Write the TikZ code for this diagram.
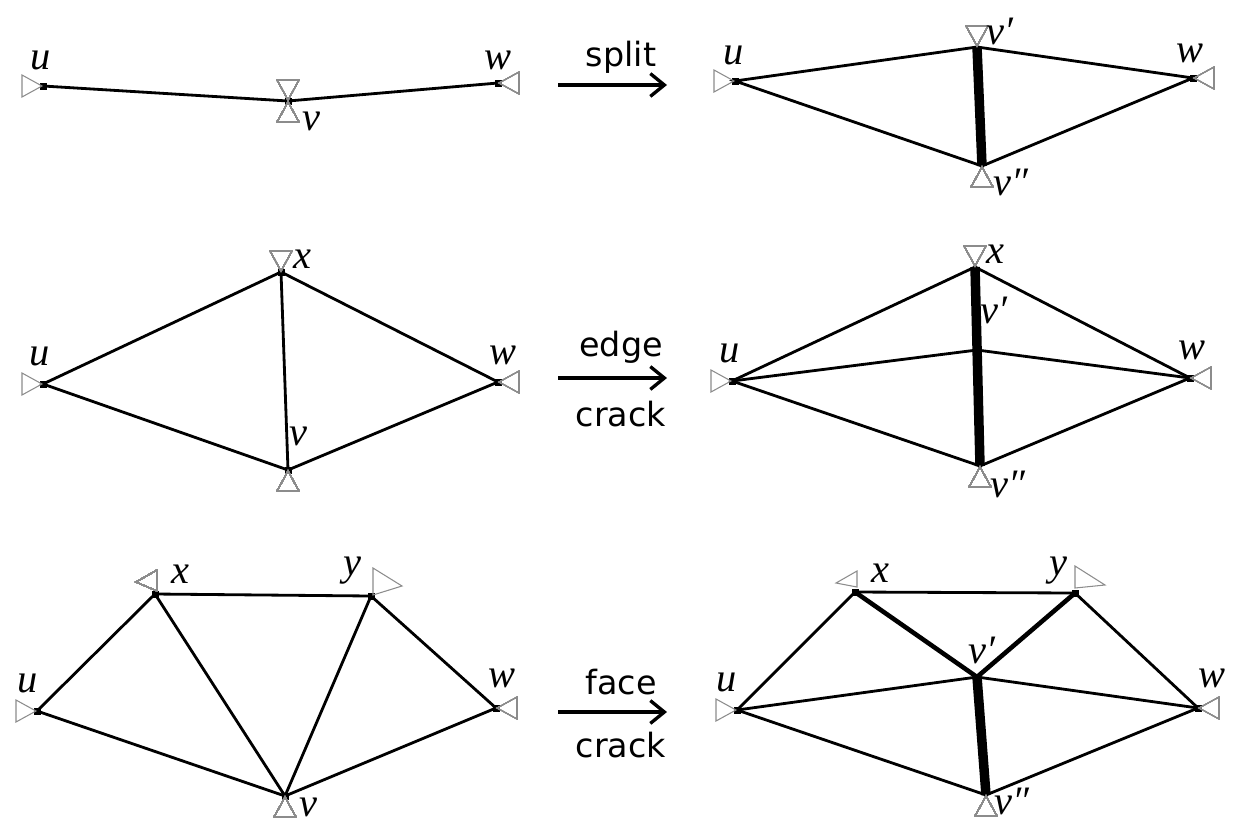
\documentclass[tikz,border=0pt]{standalone}
\usepackage{fontspec}
\setmainfont{Liberation Serif}
\newfontfamily\wordfont{DejaVu Sans}
\usetikzlibrary{arrows.meta}
\usetikzlibrary{calc}

\tikzset{
	edge/.style={line width=1.6pt},
	cut/.style={line width=5.4pt},
	halfcut/.style={line width=2.6pt},
	tri/.style={draw=black!45, line width=0.6pt, line join=miter},
	lbl/.style={inner sep=0pt, font=\fontsize{23}{23}\selectfont\itshape},
	word/.style={inner sep=0pt, font=\wordfont\fontsize{19}{19}\selectfont},
	move/.style={line width=1.9pt, -{Straight Barb[length=8pt,width=13pt,line width=1.9pt]}}
}

% triangle with its apex on a vertex, opening in direction #2
\newcommand{\gtri}[2]{\draw[tri, shift={(#1)}, rotate=#2] (1,0) -- (21,11) -- (21,-11) -- cycle;}

\begin{document}
\begin{tikzpicture}[x=0.02cm, y=-0.02cm]
	\useasboundingbox (0,0) rectangle (1236,829);

	% row 1: split
	\coordinate (uA) at (43,86);
	\coordinate (vA) at (288,101);
	\coordinate (wA) at (498,83);
	\coordinate (uB) at (735,81);
	\coordinate (vpB) at (977,47);
	\coordinate (vppB) at (982,166);
	\coordinate (wB) at (1193,78);

	% row 2: edge crack
	\coordinate (uC) at (43,384);
	\coordinate (xC) at (281,272);
	\coordinate (vC) at (288,470);
	\coordinate (wC) at (498,382);
	\coordinate (uD) at (732,381);
	\coordinate (xD) at (975,267);
	\coordinate (vpD) at (977,350);
	\coordinate (vppD) at (980,466);
	\coordinate (wD) at (1190,378);

	% row 3: face crack
	\coordinate (uE) at (37,711);
	\coordinate (xE) at (155,594);
	\coordinate (yE) at (371,596);
	\coordinate (vE) at (285,796);
	\coordinate (wE) at (496,708);
	\coordinate (uF) at (737,710);
	\coordinate (xF) at (855,592);
	\coordinate (yF) at (1075,593);
	\coordinate (vpF) at (977,677);
	\coordinate (vppF) at (986,795);
	\coordinate (wF) at (1198,708);

	% edges
	\draw[edge] (uA) -- (vA) -- (wA);
	\draw[edge] (uB) -- (vpB) -- (wB) -- (vppB) -- cycle;
	\draw[cut] (vpB) -- (vppB);

	\draw[edge] (uC) -- (xC) -- (wC) -- (vC) -- cycle;
	\draw[edge] (xC) -- (vC);
	\draw[edge] (uD) -- (xD) -- (wD) -- (vppD) -- cycle;
	\draw[edge] (uD) -- (vpD) -- (wD);
	\draw[cut] (xD) -- (vppD);

	\draw[edge] (uE) -- (xE) -- (yE) -- (wE) -- (vE) -- cycle;
	\draw[edge] (xE) -- (vE) -- (yE);
	\draw[edge] (uF) -- (xF) -- (yF) -- (wF) -- (vppF) -- cycle;
	\draw[edge] (uF) -- (vpF) -- (wF);
	\draw[halfcut] (xF) -- (vpF) -- (yF);
	\draw[cut] (vpF) -- (vppF);

	% vertices
	\foreach \p in {uA,vA,wA,uB,wB,uC,xC,vC,wC,uD,wD,uE,xE,yE,vE,wE,uF,xF,yF,wF}
		\fill (\p) +(-3.5,-3.5) rectangle +(3.5,3.5);

	% triangles
	\foreach \p in {uA,uB,uC,uD,uE,uF}
		\gtri{\p}{180}
	\foreach \p in {wA,wB,wC,wD,wE,wF}
		\gtri{\p}{0}
	\foreach \p in {vA,vpB,xC,xD}
		\gtri{\p}{90}
	\foreach \p in {vA,vppB,vC,vppD,vE,vppF}
		\gtri{\p}{270}
	\draw[tri] ($(xE)+(2,-24)$) -- ($(xE)+(2,-3)$) -- ($(xE)+(-19,-12)$) -- cycle;
	\draw[tri] ($(yE)+(2,-28)$) -- ($(yE)+(2,-1)$) -- ($(yE)+(31,-10)$) -- cycle;
	\draw[tri] ($(xF)+(2,-21)$) -- ($(xF)+(2,-5)$) -- ($(xF)+(-19,-9)$) -- cycle;
	\draw[tri] ($(yF)+(0,-27)$) -- ($(yF)+(0,-5)$) -- ($(yF)+(30,-8)$) -- cycle;

	% labels
	\node[lbl] (luA) at (41,60) {u};
	\node[lbl] (lvA) at (311,121) {v};
	\node[lbl] (lwA) at (498,60) {w};
	\node[lbl] (luB) at (734,55) {u};
	\node[lbl] (lvpB) at (1000,31) {v′};
	\node[lbl] (lvppB) at (1011,182) {v″};
	\node[lbl] (lwB) at (1190,53) {w};

	\node[lbl] (lxC) at (302,259) {x};
	\node[lbl] (luC) at (40,356) {u};
	\node[lbl] (lwC) at (503,355) {w};
	\node[lbl] (lvC) at (298,436) {v};
	\node[lbl] (lxD) at (995,254) {x};
	\node[lbl] (lvpD) at (994,310) {v′};
	\node[lbl] (luD) at (730,353) {u};
	\node[lbl] (lwD) at (1192,350) {w};
	\node[lbl] (lvppD) at (1008,484) {v″};

	\node[lbl] (lxE) at (180,574) {x};
	\node[lbl] (lyE) at (352,571) {y};
	\node[lbl] (luE) at (28,683) {u};
	\node[lbl] (lwE) at (502,678) {w};
	\node[lbl] (lvE) at (308,807) {v};
	\node[lbl] (lxF) at (880,573) {x};
	\node[lbl] (lyF) at (1058,571) {y};
	\node[lbl] (lvpF) at (982,650) {v′};
	\node[lbl] (luF) at (727,682) {u};
	\node[lbl] (lwF) at (1212,678) {w};
	\node[lbl] (lvppF) at (1012,801) {v″};

	% operations
	\node[word] (split) at (621,57) {split};
	\coordinate (sA) at (558,85);
	\coordinate (eA) at (667,85);
	\draw[move] (sA) -- (eA);

	\node[word] (edge) at (621,347) {edge};
	\node[word] (crackC) at (621,414) {crack};
	\coordinate (sC) at (558,378);
	\coordinate (eC) at (667,378);
	\draw[move] (sC) -- (eC);

	\node[word] (face) at (621,682) {face};
	\node[word] (crackE) at (621,745) {crack};
	\coordinate (sE) at (558,712);
	\coordinate (eE) at (667,712);
	\draw[move] (sE) -- (eE);
\end{tikzpicture}
\end{document}
